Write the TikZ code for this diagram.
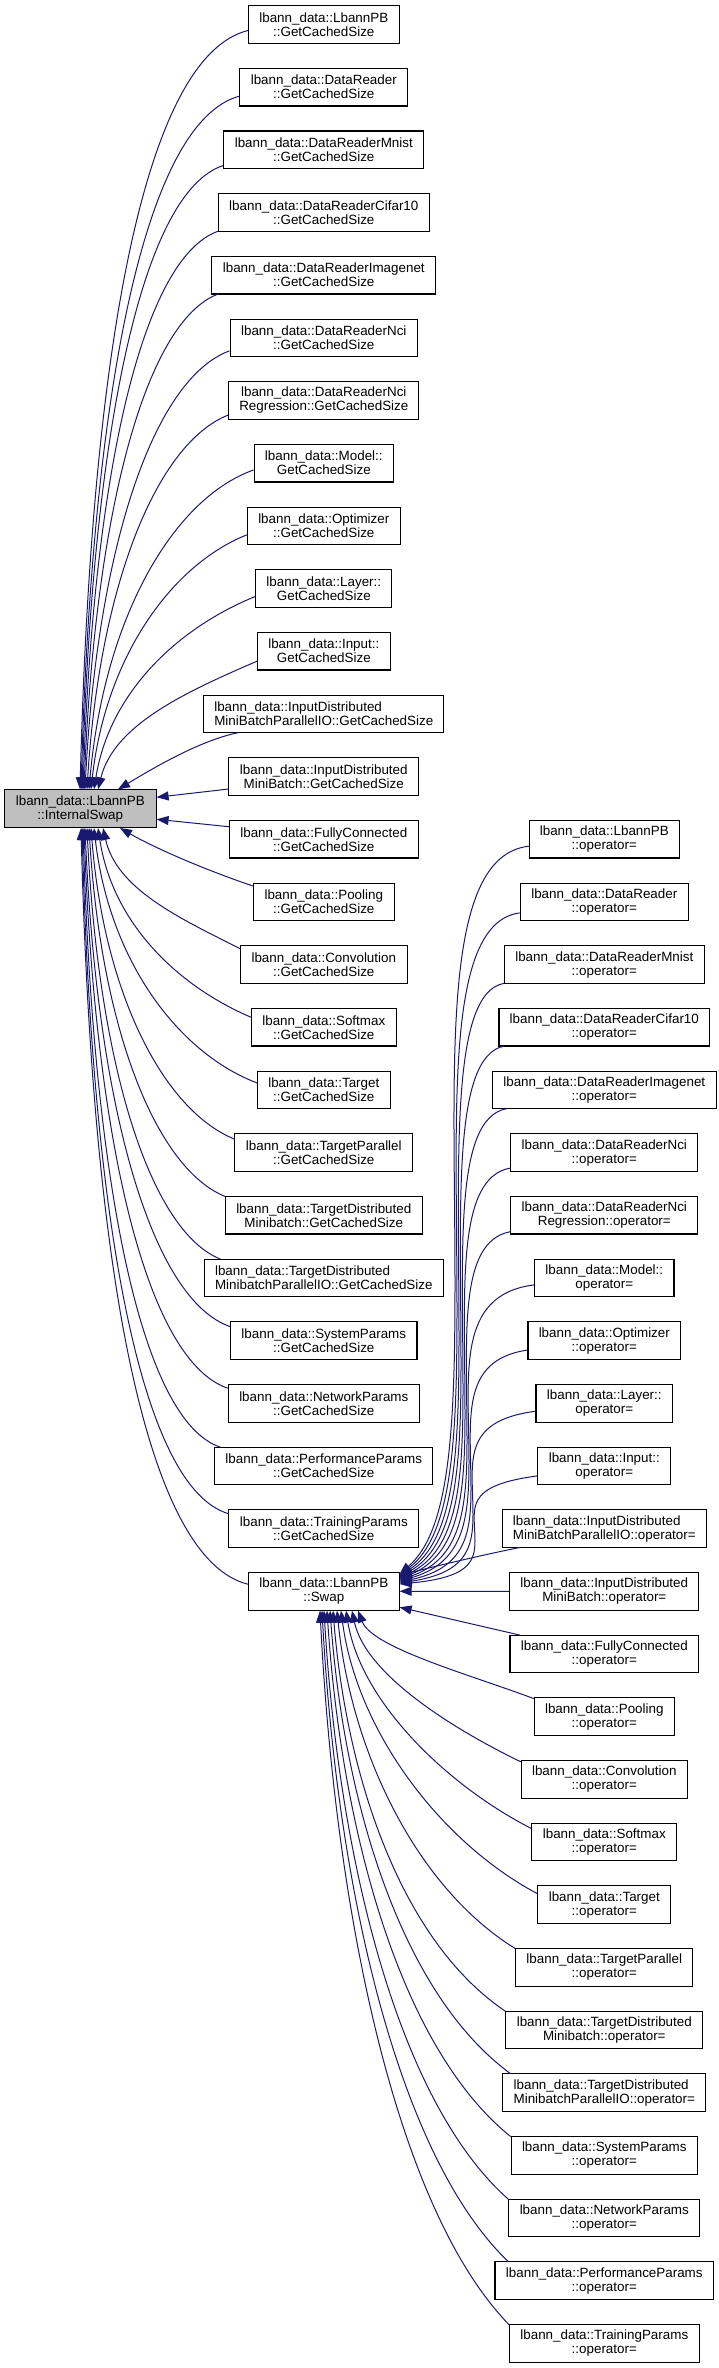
\documentclass[tikz,border=0pt]{standalone}
\usepackage{fontspec}
\setmainfont{Liberation Sans}
\usetikzlibrary{arrows.meta,calc}
\definecolor{mblue}{HTML}{191970}
\definecolor{isgray}{HTML}{BFBFBF}
\newcommand\fnt{\fontsize{13.4pt}{14pt}\selectfont}
\newcommand\Lbox[4]{\node[box,minimum width=#2pt,#3] (L#1) at (323.8,{-24.5-62.67*(#1-1)}) {#4};}
\newcommand\Rbox[4]{\node[box,minimum width=#2pt,#3] (R#1) at (604.3,{-839.21-62.67*(#1-1)}) {#4};}
\begin{document}
\begin{tikzpicture}[x=1pt,y=1pt,
  box/.style={draw=black,line width=1.1pt,fill=white,minimum height=37.6pt,inner sep=0pt,align=center,font=\fnt},
  edge/.style={draw=mblue,line width=1pt,-{Triangle[length=12pt,width=9pt]}}]
\useasboundingbox (0,0) rectangle (718,-2368);
% left column
\Lbox{1}{150.5}{}{lbann\_data::LbannPB\\::GetCachedSize}
\Lbox{2}{168}{}{lbann\_data::DataReader\\::GetCachedSize}
\Lbox{3}{200}{}{lbann\_data::DataReaderMnist\\::GetCachedSize}
\Lbox{4}{210.8}{}{lbann\_data::DataReaderCifar10\\::GetCachedSize}
\Lbox{5}{224}{}{lbann\_data::DataReaderImagenet\\::GetCachedSize}
\Lbox{6}{187.5}{}{lbann\_data::DataReaderNci\\::GetCachedSize}
\Lbox{7}{190}{}{lbann\_data::DataReaderNci\\Regression::GetCachedSize}
\Lbox{8}{139.5}{}{lbann\_data::Model::\\GetCachedSize}
\Lbox{9}{152.8}{}{lbann\_data::Optimizer\\::GetCachedSize}
\Lbox{10}{136}{}{lbann\_data::Layer::\\GetCachedSize}
\Lbox{11}{132.6}{}{lbann\_data::Input::\\GetCachedSize}
\Lbox{12}{240}{align=left}{lbann\_data::InputDistributed\\MiniBatchParallelIO::GetCachedSize}
\Lbox{13}{190}{}{lbann\_data::InputDistributed\\MiniBatch::GetCachedSize}
\Lbox{14}{188.7}{}{lbann\_data::FullyConnected\\::GetCachedSize}
\Lbox{15}{140.8}{}{lbann\_data::Pooling\\::GetCachedSize}
\Lbox{16}{166.6}{}{lbann\_data::Convolution\\::GetCachedSize}
\Lbox{17}{144.5}{}{lbann\_data::Softmax\\::GetCachedSize}
\Lbox{18}{132.6}{}{lbann\_data::Target\\::GetCachedSize}
\Lbox{19}{177.8}{}{lbann\_data::TargetParallel\\::GetCachedSize}
\Lbox{20}{196.5}{}{lbann\_data::TargetDistributed\\Minibatch::GetCachedSize}
\Lbox{21}{238.8}{align=left}{lbann\_data::TargetDistributed\\MinibatchParallelIO::GetCachedSize}
\Lbox{22}{186.4}{}{lbann\_data::SystemParams\\::GetCachedSize}
\Lbox{23}{190.6}{}{lbann\_data::NetworkParams\\::GetCachedSize}
\Lbox{24}{218}{}{lbann\_data::PerformanceParams\\::GetCachedSize}
\Lbox{25}{190}{}{lbann\_data::TrainingParams\\::GetCachedSize}
\node[box,minimum width=150.5pt,alias=L26] (sw) at (323.8,-1591.25) {lbann\_data::LbannPB\\::Swap};
\node[box,minimum width=151.5pt,fill=isgray] (is) at (80.3,-808.7) {lbann\_data::LbannPB\\::InternalSwap};
% right column
\Rbox{1}{150}{}{lbann\_data::LbannPB\\::operator=}
\Rbox{2}{168}{}{lbann\_data::DataReader\\::operator=}
\Rbox{3}{199.8}{}{lbann\_data::DataReaderMnist\\::operator=}
\Rbox{4}{210.7}{}{lbann\_data::DataReaderCifar10\\::operator=}
\Rbox{5}{223.7}{}{lbann\_data::DataReaderImagenet\\::operator=}
\Rbox{6}{187.2}{}{lbann\_data::DataReaderNci\\::operator=}
\Rbox{7}{187.2}{}{lbann\_data::DataReaderNci\\Regression::operator=}
\Rbox{8}{139.4}{}{lbann\_data::Model::\\operator=}
\Rbox{9}{152.7}{}{lbann\_data::Optimizer\\::operator=}
\Rbox{10}{136.7}{}{lbann\_data::Layer::\\operator=}
\Rbox{11}{133}{}{lbann\_data::Input::\\operator=}
\Rbox{12}{204}{align=left}{lbann\_data::InputDistributed\\MiniBatchParallelIO::operator=}
\Rbox{13}{189.2}{}{lbann\_data::InputDistributed\\MiniBatch::operator=}
\Rbox{14}{188.7}{}{lbann\_data::FullyConnected\\::operator=}
\Rbox{15}{139.9}{}{lbann\_data::Pooling\\::operator=}
\Rbox{16}{166}{}{lbann\_data::Convolution\\::operator=}
\Rbox{17}{145}{}{lbann\_data::Softmax\\::operator=}
\Rbox{18}{133}{}{lbann\_data::Target\\::operator=}
\Rbox{19}{177.2}{}{lbann\_data::TargetParallel\\::operator=}
\Rbox{20}{197}{}{lbann\_data::TargetDistributed\\Minibatch::operator=}
\Rbox{21}{203}{align=left}{lbann\_data::TargetDistributed\\MinibatchParallelIO::operator=}
\Rbox{22}{186.3}{}{lbann\_data::SystemParams\\::operator=}
\Rbox{23}{191}{}{lbann\_data::NetworkParams\\::operator=}
\Rbox{24}{218.6}{}{lbann\_data::PerformanceParams\\::operator=}
\Rbox{25}{189.7}{}{lbann\_data::TrainingParams\\::operator=}
% left fan, above InternalSwap
\foreach \i/\qw/\qyo/\qsx/\qtx in {1/150.5/6/0/80, 2/168/9/0/81, 3/200/15.7/0/82, 4/210.8/18.8/0/83, 5/224/18.8/7/84, 6/187.5/13/0/85, 7/190/14.5/0/87, 8/139.5/6.8/0/89, 9/152.8/9/0/91, 10/136/8/0/94, 11/132.6/10/0/98}{
  \pgfmathsetmacro\qxs{323.8-\qw/2+\qsx}
  \pgfmathsetmacro\qys{24.5+62.67*(\i-1)+\qyo}
  \pgfmathsetmacro\qdx{\qxs-\qtx}
  \pgfmathsetmacro\qdy{790-\qys}
  \pgfmathsetmacro\qax{-(0.6-0.015*(\i-1))*\qdx}
  \pgfmathsetmacro\qay{-(25+0.6*(\i-1))}
  \pgfmathsetmacro\qbx{(0.07+0.003*(\i-1))*\qdx}
  \pgfmathsetmacro\qby{(0.6-0.01*(\i-1))*\qdy}
  \pgfmathsetmacro\qsh{\qtx-80.3}
  \draw[edge] ([xshift=\qsx,yshift=-\qyo]L\i.west) .. controls +(\qax,\qay) and +(\qbx,\qby) .. ([xshift=\qsh]is.north);
}
% left fan, below InternalSwap
\foreach \j/\qw/\qyo/\qsx/\qtx in {16/166.6/16/0/103, 17/144.5/10/0/98, 18/132.6/7/0/94, 19/177.8/13.5/0/91, 20/196.5/18.8/0/89, 21/238.8/18.8/16.6/87, 22/186.4/14/0/85, 23/190.6/15/0/84, 24/218/18.8/6/83, 25/190/15/0/82, 26/150.5/7/0/81}{
  \pgfmathsetmacro\qm{27-\j}
  \pgfmathsetmacro\qxs{323.8-\qw/2+\qsx}
  \pgfmathsetmacro\qys{24.5+62.67*(\j-1)-\qyo}
  \pgfmathsetmacro\qdx{\qxs-\qtx}
  \pgfmathsetmacro\qdy{\qys-827.3}
  \pgfmathsetmacro\qax{-(0.6-0.015*(\qm-1))*\qdx}
  \pgfmathsetmacro\qay{25+0.6*(\qm-1)}
  \pgfmathsetmacro\qbx{(0.07+0.003*(\qm-1))*\qdx}
  \pgfmathsetmacro\qby{-(0.6-0.01*(\qm-1))*\qdy}
  \pgfmathsetmacro\qsh{\qtx-80.3}
  \draw[edge] ([xshift=\qsx,yshift=\qyo]L\j.west) .. controls +(\qax,\qay) and +(\qbx,\qby) .. ([xshift=\qsh]is.south);
}
\draw[edge] ([xshift=35,yshift=-18.8]L12.west) .. controls +(-40,-8) and +(30,18) .. ([xshift=37.7]is.north);
\draw[edge] ([yshift=-12.5]L13.west) -- ([yshift=11.4]is.east);
\draw[edge] ([yshift=12.5]L14.west) -- ([yshift=-10.6]is.east);
\draw[edge] ([yshift=15.9]L15.west) .. controls +(-50,17) and +(35,-20) .. ([xshift=39.7]is.south);
% right fan, above Swap
\foreach \k/\qw/\qyo/\qsx in {1/150/7/0, 2/168/11/0, 3/199.8/18.8/0, 4/210.7/18.8/6, 5/223.7/18.8/14.5, 6/187.2/15.5/0, 7/187.2/16.5/0, 8/139.4/7/0, 9/152.7/9.5/0, 10/136.7/8/0, 11/133/10/0}{
  \pgfmathsetmacro\qxs{604.3-\qw/2+\qsx}
  \pgfmathsetmacro\qys{839.21+62.67*(\k-1)+\qyo}
  \pgfmathsetmacro\qxm{455+2*(\k-1)}
  \pgfmathsetmacro\qty{1574+(\k-1)}
  \pgfmathsetmacro\qym{\qys+0.6*(\qty-\qys)}
  \pgfmathsetmacro\qax{-1.2*(\qxs-\qxm)}
  \pgfmathsetmacro\qby{0.5*(\qym-\qys)}
  \pgfmathsetmacro\qcy{-0.5*(\qty-\qym)}
  \pgfmathsetmacro\qdx{0.9*(\qxm-399.05)}
  \pgfmathsetmacro\qdy{0.15*(\qty-\qym)}
  \pgfmathsetmacro\qsh{1591.25-\qty}
  \draw[edge] ([xshift=\qsx,yshift=-\qyo]R\k.west) .. controls +(\qax,-10) and +(0,\qby) .. (\qxm,-\qym) .. controls +(0,\qcy) and +(\qdx,\qdy) .. ([yshift=\qsh]sw.east);
}
\draw[edge] ([xshift=18.6,yshift=-18.8]R12.west) .. controls +(-40,-8) and +(40,10) .. ([yshift=16]sw.east);
\draw[edge] (R13.west) -- (sw.east);
\draw[edge] ([xshift=10.7,yshift=18.8]R14.west) -- ([yshift=-16]sw.east);
% right fan, below Swap
\foreach \k/\qw/\qyo/\qsx/\qtx in {15/139.9/18/0/358, 16/166/17.5/0/352, 17/145/13.5/0/346, 18/133/11/0/341, 19/177.2/18.8/0/337, 20/197/18.8/0/333, 21/203/18.8/8.5/330, 22/186.3/18.8/0/327, 23/191/18.8/0/324, 24/218.6/18.8/14/322, 25/189.7/18.8/0/320}{
  \pgfmathsetmacro\qxs{604.3-\qw/2+\qsx}
  \pgfmathsetmacro\qys{839.21+62.67*(\k-1)-\qyo}
  \pgfmathsetmacro\qdx{\qxs-\qtx}
  \pgfmathsetmacro\qdy{\qys-1610}
  \pgfmathsetmacro\qa{min(0.6,0.35+0.05*(\k-15))}
  \pgfmathsetmacro\qax{-\qa*\qdx}
  \pgfmathsetmacro\qay{0.15*\qdy+10}
  \pgfmathsetmacro\qbx{0.08*\qdx}
  \pgfmathsetmacro\qby{-0.42*\qdy}
  \pgfmathsetmacro\qsh{\qtx-323.8}
  \draw[edge] ([xshift=\qsx,yshift=\qyo]R\k.west) .. controls +(\qax,\qay) and +(\qbx,\qby) .. ([xshift=\qsh]sw.south);
}
\end{tikzpicture}
\end{document}
